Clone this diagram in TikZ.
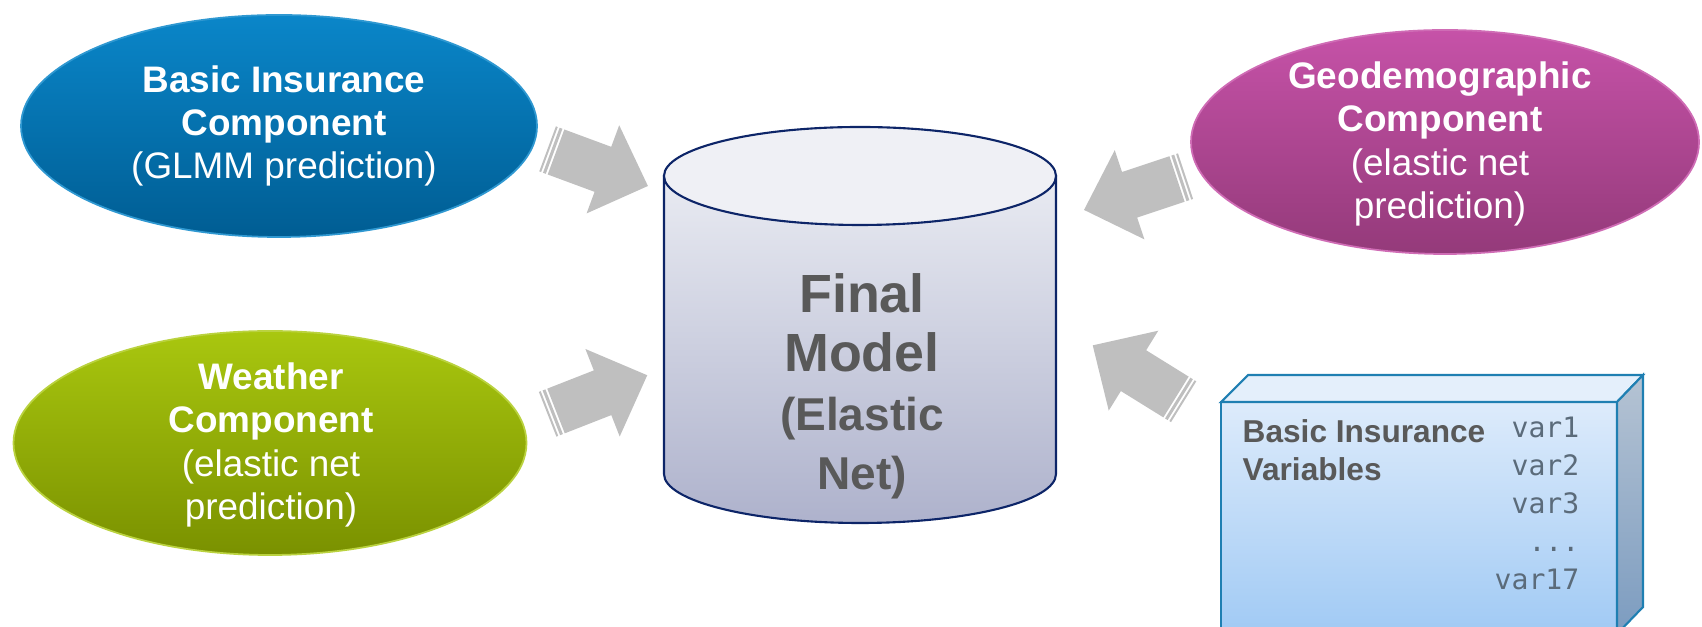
\documentclass[tikz,border=0pt]{standalone}
\usepackage{fontspec}
\setmainfont{Liberation Sans}
\setmonofont{DejaVu Sans Mono}
\usetikzlibrary{shapes.geometric}

\definecolor{bicTop}{HTML}{0A86C9}
\definecolor{bicBot}{HTML}{005D93}
\definecolor{geoTop}{HTML}{C652A8}
\definecolor{geoBot}{HTML}{943A7A}
\definecolor{wxTop}{HTML}{A9C70F}
\definecolor{wxBot}{HTML}{7A9100}
\definecolor{arrowgray}{HTML}{BFBFBF}
\definecolor{textgray}{HTML}{595959}
\definecolor{vargray}{HTML}{5B6B7A}
\definecolor{cylLine}{HTML}{0D2568}
\definecolor{cylTop}{HTML}{E9EBF2}
\definecolor{cylBot}{HTML}{AEB2CC}
\definecolor{cylLid}{HTML}{EFF0F5}
\definecolor{boxLine}{HTML}{1F7FB2}
\definecolor{boxTop}{HTML}{DDEBFB}
\definecolor{boxBot}{HTML}{9FC9F4}
\definecolor{boxLid}{HTML}{E4EFFB}
\definecolor{boxSideTop}{HTML}{B5C3D3}
\definecolor{boxSideBot}{HTML}{7C9CC0}

\newcommand{\bigline}{\fontsize{15.3}{16.8}\selectfont}

\tikzset{
  stripedarrow/.pic={
    \fill[arrowgray] (-9,-24) rectangle (-7,24);
    \fill[arrowgray] (-5,-24) rectangle (-2,24);
    \fill[arrowgray] (0,-24) -- (50,-24) -- (50,-47) -- (98,0) -- (50,47)
      -- (50,24) -- (0,24) -- cycle;
  }
}

\begin{document}
\begin{tikzpicture}[x=0.1mm, y=-0.1mm,
    comp/.style={ellipse, inner sep=0pt, line width=0.5pt},
    comptext/.style={text=white, align=center, font=\fontsize{10.5}{12.3}\selectfont},
    cyltext/.style={text=textgray, align=center, font=\fontsize{13.1}{16.8}\selectfont\bfseries},
  ]
  \useasboundingbox (0,0) rectangle (1702,627);
  \clip (0,0) rectangle (1702,627);

  % the three component models
  \node[comp, minimum width=51.6mm, minimum height=22.2mm,
    draw=bicTop!85!white, top color=bicTop, bottom color=bicBot] (bic) at (279,126) {};
  \node[comptext] (bictext) at (284,126)
    {\textbf{Basic Insurance}\\\textbf{Component}\\(GLMM prediction)};

  \node[comp, minimum width=51.3mm, minimum height=22.4mm,
    draw=wxTop!80!white, top color=wxTop, bottom color=wxBot] (wx) at (270,443) {};
  \node[comptext] (wxtext) at (271,445)
    {\textbf{Weather}\\\textbf{Component}\\(elastic net\\prediction)};

  \node[comp, minimum width=50.8mm, minimum height=22.4mm,
    draw=geoTop!85!white, top color=geoTop, bottom color=geoBot] (geo) at (1445,142) {};
  \node[comptext] (geotext) at (1440,144)
    {\textbf{Geodemographic}\\\textbf{Component}\\(elastic net\\prediction)};

  % final model drum
  \draw[cylLine, line width=0.6pt, top color=cylTop, bottom color=cylBot]
    (664,176) -- (664,474) arc[start angle=180, end angle=0, x radius=196, y radius=49]
    -- (1056,176) -- cycle;
  \draw[cylLine, line width=0.6pt, fill=cylLid]
    (860,176) ellipse[x radius=196, y radius=49];
  \node[cyltext] (model) at (862,386)
    {\bigline Final\\\bigline Model\\(Elastic\\Net)};

  % variables box
  \draw[boxLine, line width=0.6pt, top color=boxTop, bottom color=boxBot]
    (1221,402) -- (1617,402) -- (1617,640) -- (1221,640) -- cycle;
  \draw[boxLine, line width=0.6pt, fill=boxLid]
    (1221,402) -- (1248,375) -- (1643,375) -- (1617,402) -- cycle;
  \draw[boxLine, line width=0.6pt, top color=boxSideTop, bottom color=boxSideBot]
    (1617,402) -- (1643,375) -- (1643,607) -- (1617,634) -- cycle;
  \node[anchor=north west, inner sep=0pt, align=left, text=textgray,
    font=\fontsize{9}{10.8}\selectfont\bfseries] (vars) at (1242,419)
    {Basic Insurance\\Variables};
  \node[anchor=north east, inner sep=0pt, align=right, text=vargray,
    font=\fontsize{8}{10.8}\selectfont\ttfamily] (varlist) at (1580,416)
    {var1\\var2\\var3\\...\\var17};

  % arrows into the final model
  \coordinate (bicin) at (556,152);
  \coordinate (wxin) at (556,411);
  \coordinate (geoin) at (1177,179);
  \coordinate (varin) at (1176,397);
  \pic[rotate=-20.3] at (bicin) {stripedarrow};
  \pic[rotate=21.4] at (wxin) {stripedarrow};
  \pic[rotate=198.4] at (geoin) {stripedarrow};
  \pic[rotate=148.2] at (varin) {stripedarrow};
\end{tikzpicture}
\end{document}
